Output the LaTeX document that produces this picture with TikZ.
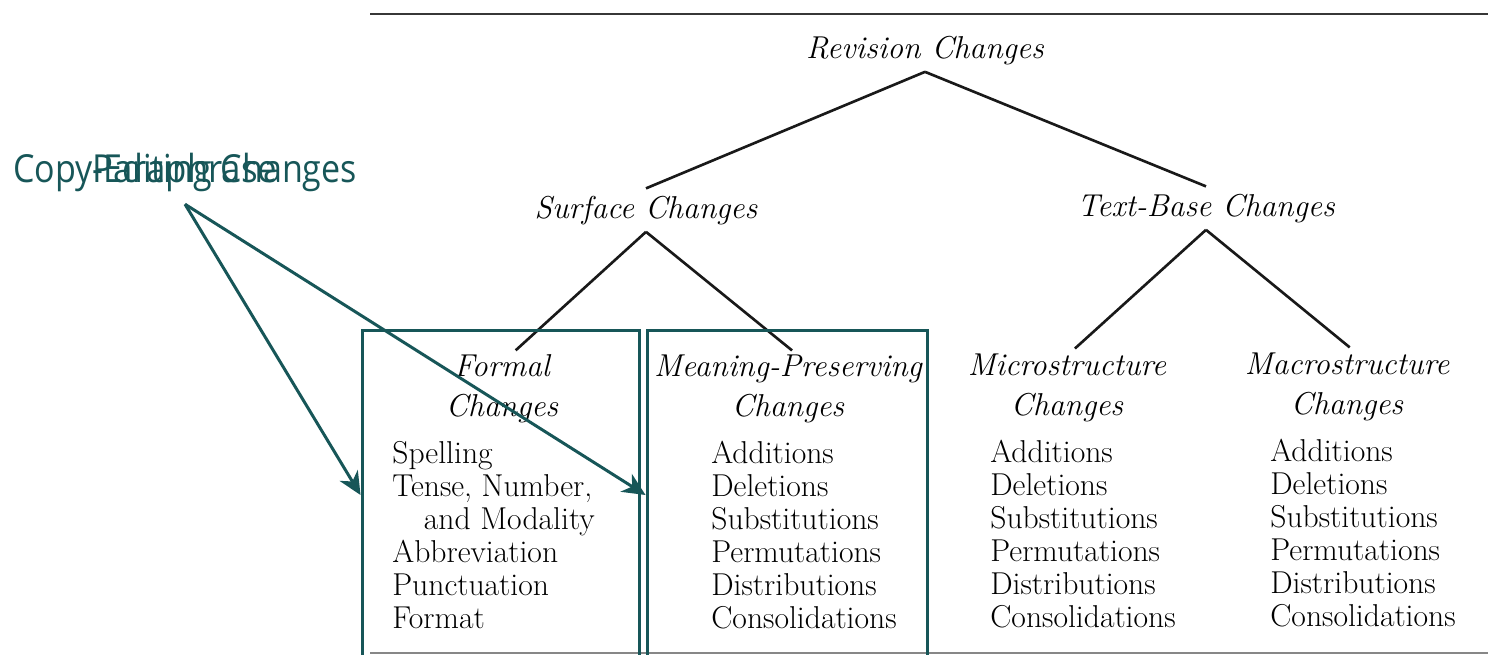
\documentclass[tikz,border=0pt]{standalone}
\usepackage{fontspec}
\usepackage{graphicx}
\usetikzlibrary{arrows.meta,positioning}
\newfontfamily\annofont{Open Sans}
\definecolor{annoteal}{RGB}{23,86,88}
\definecolor{scangray}{RGB}{55,55,55}

\tikzset{
  branch/.style={line width=1.5pt, black!90},
  heading/.style={font=\fontsize{18}{22.7}\selectfont\itshape, align=center, inner sep=4pt, anchor=base},
  itemlist/.style={font=\fontsize{18}{18.7}\selectfont, align=left, inner sep=0pt, anchor=base west},
  annobox/.style={draw=annoteal, line width=1.7pt, minimum height=6.6cm},
  annolabel/.style={font=\annofont\fontsize{22}{24}\selectfont, text=annoteal, outer sep=4pt},
  annoarrow/.style={draw=annoteal, line width=1.7pt, -{Stealth[length=13pt,width=12pt,inset=4pt]}},
}

\begin{document}
\begin{tikzpicture}[x=0.02cm, y=-0.02cm]
    \useasboundingbox (0,0) rectangle (1488,654);

    % Rules of the scanned page
    \draw[scangray, line width=1.5pt] (370,14) -- (1488,14);
    \draw[scangray!60, line width=1.2pt] (370,653) -- (1488,653);

    % Tree headings (base = last line)
    \node[heading] (revision) at (925,58) {Revision Changes};
    \node[heading] (surface) at (646,218) {Surface Changes};
    \node[heading] (textbase) at (1206,216) {Text-Base Changes};

    \node[heading] (formal) at (502,416) {Formal\\Changes};
    \node[heading] (meaning) at (788,416) {Meaning-Preserving\\Changes};
    \node[heading] (micro) at (1067,415) {Microstructure\\Changes};
    \node[heading] (macro) at (1347,414) {Macrostructure\\Changes};

    % Lists under each class
    \node[itemlist] (formallist) at (392,628) {Spelling\\Tense, Number,\\\hspace*{1em}and Modality\\Abbreviation\\Punctuation\\Format};
    \node[itemlist] (meaninglist) at (711,628) {Additions\\Deletions\\Substitutions\\Permutations\\Distributions\\Consolidations};
    \node[itemlist] (microlist) at (990,627) {Additions\\Deletions\\Substitutions\\Permutations\\Distributions\\Consolidations};
    \node[itemlist] (macrolist) at (1270,626) {Additions\\Deletions\\Substitutions\\Permutations\\Distributions\\Consolidations};

    % Branches
    \draw[branch] (revision.south) -- (surface.north);
    \draw[branch] (revision.south) -- (textbase.north);
    \draw[branch, shorten >=-3pt] (surface.south) -- ([xshift=10pt]formal.north);
    \draw[branch, shorten >=-3pt] (surface.south) -- (meaning.north);
    \draw[branch, shorten >=-2pt] (textbase.south) -- ([xshift=6pt]micro.north);
    \draw[branch, shorten >=-2pt] (textbase.south) -- (macro.north);

    % Annotation boxes
    \node[annobox, minimum width=5.56cm] (formalbox) at (501,495) {};
    \node[annobox, minimum width=5.62cm] (meaningbox) at (787.5,495) {};

    % Overlapping annotation labels
    \node[annolabel] (copyedit) at (185,172) {\scalebox{0.88}[1]{Copy-Editing Changes}};
    \node[annolabel] (paraphrase) at (185,172) {\scalebox{0.9}[1]{Paraphrase}};

    \draw[annoarrow] (copyedit.south) -- (formalbox.west);
    \draw[annoarrow] (paraphrase.south) -- (meaningbox.west);
\end{tikzpicture}
\end{document}
